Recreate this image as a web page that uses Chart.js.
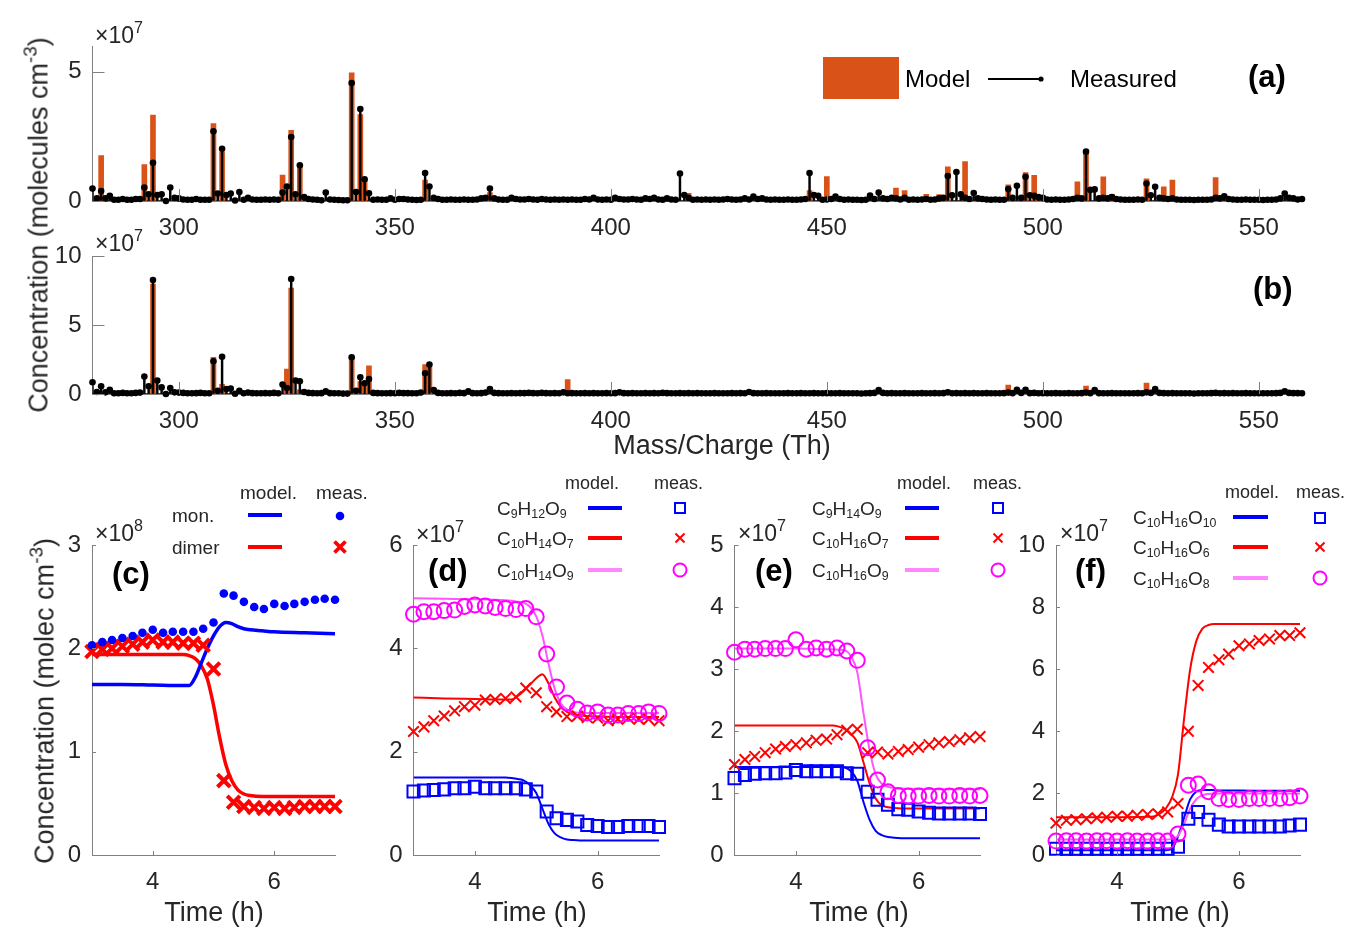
<!DOCTYPE html>
<html><head><meta charset="utf-8">
<script src="https://cdn.jsdelivr.net/npm/chart.js@4.4.1/dist/chart.umd.min.js"></script>
<style>
html,body{margin:0;padding:0;background:#fff;}
#wrap{position:relative;width:1348px;height:927px;overflow:hidden;font-family:'Liberation Sans',Arial,Helvetica,sans-serif;color:#262626;}
canvas{position:absolute;left:0;top:0;}
.t{position:absolute;white-space:nowrap;line-height:1;transform:translate(0,-50%);}
.tc{position:absolute;white-space:nowrap;line-height:1;transform:translate(-50%,-50%);}
.rot{position:absolute;white-space:nowrap;line-height:1;transform:translate(-50%,-50%) rotate(-90deg);}
sub{font-size:65%;vertical-align:-0.28em;line-height:0;}
sup{font-size:70%;vertical-align:0.6em;line-height:0;}
.b{font-weight:bold;color:#000;}
.ln{position:absolute;height:4px;}
svg{position:absolute;overflow:visible;}
</style></head>
<body><div id="wrap">
<canvas id="cA"></canvas><canvas id="cB"></canvas><canvas id="cC"></canvas>
<canvas id="cD"></canvas><canvas id="cE"></canvas><canvas id="cF"></canvas>

<!-- panel a/b texts -->
<div class="t" style="left:95px;top:35px;font-size:23px;">×10<sup>7</sup></div>
<div class="t" style="left:95px;top:243px;font-size:23px;">×10<sup>7</sup></div>
<div style="position:absolute;left:823px;top:57px;width:76px;height:42px;background:#D95319;"></div>
<div class="t" style="left:905px;top:79px;font-size:24px;color:#000;">Model</div>
<div class="ln" style="left:988px;top:78px;width:53px;height:2px;background:#000;"></div>
<svg style="left:0;top:0;" width="1" height="1"><circle cx="1041" cy="79" r="2.6" fill="#000"/></svg>
<div class="t" style="left:1070px;top:79px;font-size:24px;color:#000;">Measured</div>
<div class="t b" style="left:1248px;top:76px;font-size:31px;">(a)</div>
<div class="t b" style="left:1253px;top:288px;font-size:31px;">(b)</div>
<div class="tc" style="left:722px;top:445px;font-size:27px;">Mass/Charge (Th)</div>
<div class="rot" style="left:39px;top:225px;font-size:27px;">Concentration (molecules cm<sup>-3</sup>)</div>

<!-- panel c -->
<div class="t" style="left:240px;top:492px;font-size:19px;">model.</div>
<div class="t" style="left:316px;top:492px;font-size:19px;">meas.</div>
<div class="t" style="left:172px;top:515px;font-size:19px;">mon.</div>
<div class="t" style="left:172px;top:547px;font-size:19px;">dimer</div>
<div class="ln" style="left:248px;top:513px;width:34px;background:#0000ff;"></div>
<div class="ln" style="left:248px;top:545px;width:34px;background:#ff0000;"></div>
<svg style="left:0;top:0;" width="1" height="1">
<circle cx="340" cy="516" r="4.3" fill="#0000ff"/>
<path d="M334.5 541.5 L345.5 552.5 M345.5 541.5 L334.5 552.5" stroke="#ff0000" stroke-width="3.8"/>
</svg>
<div class="t" style="left:95px;top:533px;font-size:23px;">×10<sup>8</sup></div>
<div class="t b" style="left:112px;top:573px;font-size:31px;">(c)</div>
<div class="tc" style="left:214px;top:912px;font-size:27px;">Time (h)</div>
<div class="rot" style="left:45px;top:701px;font-size:27px;">Concentration (molec cm<sup>-3</sup>)</div>

<!-- panel d -->
<div class="t" style="left:565px;top:483px;font-size:18px;">model.</div>
<div class="t" style="left:654px;top:483px;font-size:18px;">meas.</div>
<div class="t" style="left:497px;top:508px;font-size:19px;">C<sub>9</sub>H<sub>12</sub>O<sub>9</sub></div>
<div class="t" style="left:497px;top:538px;font-size:19px;">C<sub>10</sub>H<sub>14</sub>O<sub>7</sub></div>
<div class="t" style="left:497px;top:570px;font-size:19px;">C<sub>10</sub>H<sub>14</sub>O<sub>9</sub></div>
<div class="ln" style="left:588px;top:506px;width:34px;background:#0000ff;"></div>
<div class="ln" style="left:588px;top:536px;width:34px;background:#ff0000;"></div>
<div class="ln" style="left:588px;top:568px;width:34px;background:#ff88ff;"></div>
<svg style="left:0;top:0;" width="1" height="1">
<rect x="675" y="503" width="10" height="10" fill="none" stroke="#0000ff" stroke-width="2"/>
<path d="M675.5 533.5 L684.5 542.5 M684.5 533.5 L675.5 542.5" stroke="#ff0000" stroke-width="2"/>
<circle cx="680" cy="570" r="6.5" fill="none" stroke="#ff00ff" stroke-width="2"/>
</svg>
<div class="t" style="left:416px;top:534px;font-size:23px;">×10<sup>7</sup></div>
<div class="t b" style="left:428px;top:570px;font-size:31px;">(d)</div>
<div class="tc" style="left:537px;top:912px;font-size:27px;">Time (h)</div>

<!-- panel e -->
<div class="t" style="left:897px;top:483px;font-size:18px;">model.</div>
<div class="t" style="left:973px;top:483px;font-size:18px;">meas.</div>
<div class="t" style="left:812px;top:508px;font-size:19px;">C<sub>9</sub>H<sub>14</sub>O<sub>9</sub></div>
<div class="t" style="left:812px;top:538px;font-size:19px;">C<sub>10</sub>H<sub>16</sub>O<sub>7</sub></div>
<div class="t" style="left:812px;top:570px;font-size:19px;">C<sub>10</sub>H<sub>16</sub>O<sub>9</sub></div>
<div class="ln" style="left:905px;top:506px;width:34px;background:#0000ff;"></div>
<div class="ln" style="left:905px;top:536px;width:34px;background:#ff0000;"></div>
<div class="ln" style="left:905px;top:568px;width:34px;background:#ff88ff;"></div>
<svg style="left:0;top:0;" width="1" height="1">
<rect x="993" y="503" width="10" height="10" fill="none" stroke="#0000ff" stroke-width="2"/>
<path d="M993.5 533.5 L1002.5 542.5 M1002.5 533.5 L993.5 542.5" stroke="#ff0000" stroke-width="2"/>
<circle cx="998" cy="570" r="6.5" fill="none" stroke="#ff00ff" stroke-width="2"/>
</svg>
<div class="t" style="left:738px;top:533px;font-size:23px;">×10<sup>7</sup></div>
<div class="t b" style="left:755px;top:570px;font-size:31px;">(e)</div>
<div class="tc" style="left:859px;top:912px;font-size:27px;">Time (h)</div>

<!-- panel f -->
<div class="t" style="left:1225px;top:492px;font-size:18px;">model.</div>
<div class="t" style="left:1296px;top:492px;font-size:18px;">meas.</div>
<div class="t" style="left:1133px;top:517px;font-size:19px;">C<sub>10</sub>H<sub>16</sub>O<sub>10</sub></div>
<div class="t" style="left:1133px;top:547px;font-size:19px;">C<sub>10</sub>H<sub>16</sub>O<sub>6</sub></div>
<div class="t" style="left:1133px;top:578px;font-size:19px;">C<sub>10</sub>H<sub>16</sub>O<sub>8</sub></div>
<div class="ln" style="left:1233px;top:515px;width:35px;background:#0000ff;"></div>
<div class="ln" style="left:1233px;top:545px;width:35px;background:#ff0000;"></div>
<div class="ln" style="left:1233px;top:576px;width:35px;background:#ff88ff;"></div>
<svg style="left:0;top:0;" width="1" height="1">
<rect x="1315" y="513" width="10" height="10" fill="none" stroke="#0000ff" stroke-width="2"/>
<path d="M1315.5 542.5 L1324.5 551.5 M1324.5 542.5 L1315.5 551.5" stroke="#ff0000" stroke-width="2"/>
<circle cx="1320" cy="578" r="6.5" fill="none" stroke="#ff00ff" stroke-width="2"/>
</svg>
<div class="t" style="left:1060px;top:533px;font-size:23px;">×10<sup>7</sup></div>
<div class="t b" style="left:1075px;top:570px;font-size:31px;">(f)</div>
<div class="tc" style="left:1180px;top:912px;font-size:27px;">Time (h)</div>
</div>

<script>
// ---------------- DATA (concentrations in units of the axis exponent) ----------------
const massStart = 280;
const massEnd = 560;
const massTicks = [300, 350, 400, 450, 500, 550];
const yTicksA = [0, 5];
const yTicksB = [0, 5, 10];

// (a) measured, one value per integer mass 280..560 (x1e7)
const measA = [
0.48,0.10,0.39,0.10,0.20,0.05,0.05,0.08,0.05,0.05,
0.08,0.08,0.52,0.26,1.48,0.23,0.26,0.00,0.52,0.12,
0.10,0.06,0.05,0.05,0.08,0.05,0.05,0.05,2.70,0.29,
2.02,0.23,0.29,0.02,0.35,0.05,0.12,0.06,0.05,0.05,
0.06,0.05,0.06,0.05,0.33,0.56,2.48,0.26,1.38,0.15,
0.08,0.06,0.05,0.03,0.33,0.06,0.05,0.04,0.03,0.03,
4.57,0.35,3.56,0.84,0.30,0.05,0.06,0.05,0.05,0.10,
0.05,0.08,0.08,0.06,0.05,0.04,0.05,1.08,0.56,0.12,
0.08,0.05,0.05,0.06,0.05,0.05,0.06,0.05,0.05,0.06,
0.10,0.12,0.48,0.10,0.06,0.05,0.05,0.12,0.08,0.06,
0.06,0.08,0.06,0.05,0.08,0.06,0.05,0.06,0.05,0.06,
0.05,0.06,0.05,0.05,0.08,0.06,0.12,0.06,0.05,0.06,
0.05,0.12,0.08,0.06,0.06,0.08,0.06,0.05,0.10,0.08,
0.12,0.06,0.05,0.10,0.06,0.05,1.06,0.23,0.12,0.05,
0.06,0.05,0.06,0.05,0.06,0.05,0.06,0.08,0.06,0.05,
0.06,0.10,0.06,0.17,0.08,0.10,0.06,0.05,0.06,0.05,
0.05,0.06,0.05,0.05,0.06,0.08,1.08,0.23,0.20,0.05,
0.06,0.08,0.17,0.08,0.05,0.06,0.05,0.05,0.04,0.05,
0.21,0.08,0.33,0.10,0.08,0.12,0.10,0.06,0.12,0.05,
0.06,0.05,0.06,0.08,0.05,0.06,0.10,0.12,0.97,0.22,
1.12,0.26,0.12,0.08,0.31,0.10,0.08,0.06,0.05,0.06,
0.05,0.05,0.46,0.12,0.59,0.12,0.94,0.22,0.20,0.15,
0.12,0.06,0.05,0.06,0.05,0.05,0.06,0.08,0.12,0.10,
1.91,0.43,0.45,0.10,0.12,0.10,0.15,0.08,0.06,0.05,
0.05,0.05,0.06,0.05,0.68,0.22,0.55,0.12,0.10,0.08,
0.10,0.06,0.05,0.05,0.05,0.04,0.05,0.05,0.05,0.06,
0.12,0.10,0.18,0.08,0.06,0.05,0.05,0.06,0.05,0.05,
0.05,0.04,0.05,0.05,0.06,0.10,0.29,0.12,0.10,0.06,
0.08];
// (a) model bars
const modelAMass = [282,292,294,308,310,324,326,328,340,342,343,357,372,418,434,446,450,466,468,473,476,478,482,492,496,498,500,508,510,514,516,524,528,530,540];
const modelAVal  = [1.76,1.41,3.33,3.00,1.90,1.00,2.74,1.40,4.96,3.35,0.80,0.81,0.33,0.30,0.15,0.40,0.95,0.50,0.40,0.26,0.25,1.32,1.53,0.63,1.10,0.99,0.20,0.74,1.95,0.94,0.26,0.86,0.55,0.81,0.91];

// (b) measured, one value per integer mass 280..560 (x1e7)
const measB = [
0.85,0.15,0.56,0.12,0.30,0.05,0.05,0.08,0.05,0.05,
0.08,0.10,1.26,0.56,8.26,0.97,0.48,0.00,0.43,0.12,
0.10,0.08,0.05,0.05,0.06,0.08,0.05,0.05,2.37,0.24,
2.70,0.36,0.40,0.02,0.24,0.05,0.10,0.06,0.05,0.05,
0.06,0.05,0.08,0.05,0.68,0.43,8.33,0.97,0.92,0.15,
0.08,0.06,0.05,0.06,0.19,0.06,0.05,0.05,0.03,0.03,
2.66,0.24,1.21,0.77,1.09,0.08,0.06,0.05,0.05,0.06,
0.05,0.08,0.06,0.06,0.05,0.05,0.10,1.50,2.13,0.29,
0.08,0.05,0.05,0.06,0.05,0.08,0.06,0.19,0.06,0.05,
0.06,0.10,0.36,0.08,0.06,0.05,0.05,0.06,0.05,0.06,
0.06,0.08,0.06,0.05,0.08,0.06,0.05,0.06,0.05,0.12,
0.05,0.06,0.05,0.05,0.06,0.05,0.06,0.05,0.05,0.06,
0.05,0.06,0.12,0.06,0.05,0.06,0.05,0.05,0.06,0.05,
0.06,0.05,0.08,0.06,0.05,0.05,0.06,0.05,0.06,0.05,
0.06,0.05,0.05,0.05,0.06,0.05,0.05,0.05,0.06,0.05,
0.06,0.05,0.15,0.06,0.05,0.05,0.06,0.05,0.05,0.05,
0.05,0.06,0.05,0.05,0.06,0.05,0.05,0.06,0.05,0.05,
0.06,0.05,0.05,0.06,0.05,0.05,0.05,0.05,0.04,0.05,
0.06,0.08,0.28,0.08,0.05,0.06,0.05,0.05,0.06,0.05,
0.05,0.05,0.06,0.05,0.05,0.06,0.05,0.06,0.12,0.05,
0.06,0.05,0.06,0.05,0.06,0.05,0.05,0.06,0.05,0.05,
0.05,0.06,0.10,0.06,0.30,0.08,0.30,0.06,0.08,0.05,
0.06,0.05,0.05,0.06,0.05,0.05,0.06,0.05,0.05,0.06,
0.10,0.06,0.28,0.06,0.05,0.05,0.06,0.05,0.05,0.05,
0.05,0.05,0.06,0.05,0.12,0.08,0.35,0.08,0.06,0.05,
0.06,0.05,0.05,0.05,0.05,0.04,0.05,0.05,0.05,0.06,
0.08,0.05,0.06,0.05,0.06,0.05,0.05,0.06,0.05,0.05,
0.05,0.05,0.05,0.05,0.06,0.08,0.20,0.08,0.06,0.06,
0.05];
// (b) model bars
const modelBMass = [294,308,310,325,326,328,340,342,344,357,358,390,478,492,498,510,524];
const modelBVal  = [7.97,2.66,0.70,1.81,7.68,0.30,2.66,0.90,2.05,2.13,1.95,1.05,0.29,0.65,0.24,0.58,0.80];

// time panels
const timeTicks = [4, 6];
const yTicksC = [0, 1, 2, 3];
const yTicksD = [0, 2, 4, 6];
const yTicksE = [0, 1, 2, 3, 4, 5];
const yTicksF = [0, 2, 4, 6, 8, 10];
const tMeas  = [3.00,3.17,3.33,3.50,3.67,3.83,4.00,4.17,4.33,4.50,4.67,4.83,5.00,5.17,5.33,5.50,5.67,5.83,6.00,6.17,6.33,6.50,6.67,6.83,7.00];
const tModel = [3.0,3.5,4.0,4.5,4.6,4.7,4.8,4.9,5.0,5.1,5.2,5.3,5.4,5.5,5.6,5.8,6.0,6.5,7.0];

// (c) x1e8
const cMonMeas   = [2.03,2.06,2.08,2.10,2.12,2.15,2.18,2.15,2.16,2.16,2.16,2.19,2.25,2.53,2.51,2.45,2.40,2.38,2.43,2.41,2.43,2.45,2.47,2.48,2.47];
const cDimMeas   = [1.97,1.99,2.00,2.02,2.04,2.06,2.08,2.06,2.06,2.05,2.05,2.03,1.80,0.72,0.51,0.47,0.46,0.45,0.46,0.45,0.46,0.47,0.47,0.47,0.47];
const cMonModel  = [1.65,1.65,1.645,1.64,1.64,1.72,1.86,2.00,2.12,2.21,2.25,2.24,2.21,2.19,2.18,2.17,2.16,2.15,2.14];
const cDimModel  = [1.94,1.94,1.94,1.94,1.93,1.90,1.83,1.70,1.45,1.14,0.88,0.72,0.63,0.59,0.575,0.565,0.565,0.565,0.565];

// (d) x1e7
const dBlueMeas  = [1.23,1.25,1.26,1.27,1.29,1.29,1.32,1.29,1.29,1.29,1.29,1.27,1.23,0.84,0.71,0.68,0.65,0.58,0.56,0.54,0.54,0.56,0.56,0.56,0.54];
const dRedMeas   = [2.39,2.48,2.60,2.69,2.79,2.87,2.90,3.00,3.01,3.03,3.06,3.23,3.14,2.87,2.77,2.68,2.69,2.66,2.65,2.60,2.63,2.65,2.63,2.63,2.60];
const dPinkMeas  = [4.66,4.71,4.71,4.73,4.74,4.81,4.84,4.82,4.79,4.77,4.75,4.77,4.61,3.89,3.25,2.94,2.82,2.75,2.77,2.71,2.71,2.74,2.74,2.77,2.74];
const dBlueModel = [1.50,1.50,1.50,1.50,1.49,1.47,1.44,1.35,1.20,0.90,0.60,0.42,0.34,0.30,0.29,0.28,0.28,0.28,0.28];
const dRedModel  = [3.05,3.03,3.02,3.01,3.01,3.08,3.18,3.30,3.42,3.50,3.32,3.05,2.87,2.77,2.73,2.69,2.68,2.67,2.67];
const dPinkModel = [4.97,4.96,4.95,4.93,4.92,4.90,4.88,4.80,4.62,4.25,3.70,3.22,2.93,2.82,2.77,2.75,2.75,2.75,2.75];

// (e) x1e7
const eBlueMeas  = [1.24,1.29,1.31,1.32,1.32,1.33,1.37,1.35,1.35,1.35,1.35,1.32,1.31,1.02,0.89,0.81,0.74,0.73,0.70,0.68,0.67,0.67,0.67,0.67,0.66];
const eRedMeas   = [1.46,1.54,1.59,1.65,1.71,1.75,1.78,1.81,1.85,1.87,1.94,2.01,2.03,1.65,1.66,1.63,1.67,1.70,1.74,1.78,1.81,1.83,1.86,1.89,1.91];
const ePinkMeas  = [3.27,3.32,3.32,3.33,3.33,3.33,3.47,3.32,3.34,3.32,3.34,3.29,3.14,1.73,1.21,1.02,0.96,0.95,0.95,0.96,0.95,0.95,0.96,0.95,0.96];
const eBlueModel = [1.42,1.42,1.42,1.42,1.42,1.42,1.41,1.35,1.20,0.86,0.57,0.39,0.32,0.29,0.28,0.27,0.27,0.27,0.27];
const eRedModel  = [2.09,2.09,2.09,2.09,2.09,2.07,2.03,1.95,1.82,1.50,1.16,0.91,0.80,0.77,0.76,0.75,0.75,0.75,0.75];
const ePinkModel = [3.33,3.33,3.33,3.32,3.32,3.31,3.30,3.20,2.95,2.30,1.70,1.30,1.15,1.10,1.08,1.07,1.07,1.06,1.06];

// (f) x1e7
const fBlueMeas  = [0.20,0.20,0.20,0.20,0.20,0.20,0.20,0.20,0.20,0.20,0.20,0.20,0.27,1.17,1.39,1.14,0.98,0.92,0.92,0.92,0.92,0.92,0.92,0.95,0.98];
const fRedMeas   = [1.03,1.12,1.14,1.17,1.20,1.22,1.25,1.25,1.28,1.31,1.33,1.39,1.66,3.99,5.47,6.05,6.30,6.48,6.75,6.81,6.92,6.97,7.08,7.08,7.17];
const fPinkMeas  = [0.45,0.46,0.46,0.45,0.46,0.46,0.45,0.46,0.45,0.45,0.46,0.45,0.68,2.25,2.29,2.04,1.82,1.79,1.79,1.82,1.82,1.82,1.82,1.85,1.90];
const fBlueModel = [0.15,0.15,0.15,0.15,0.15,0.15,0.15,0.20,0.60,1.20,1.80,2.05,2.10,2.10,2.09,2.08,2.08,2.07,2.07];
const fRedModel  = [1.22,1.22,1.22,1.23,1.24,1.33,1.50,1.85,2.60,4.40,6.00,6.90,7.30,7.42,7.45,7.45,7.45,7.45,7.45];
const fPinkModel = [0.50,0.50,0.50,0.50,0.50,0.50,0.50,0.52,0.62,1.00,1.50,1.80,1.93,1.97,1.98,1.98,1.98,1.98,1.98];

// ---------------- STYLE / LAYOUT ----------------
const W = 1348, H = 927, YW = 60, XH = 50;
const AXIS = '#808080', TXT = '#262626';
const FONT = "'Liberation Sans', Arial, Helvetica, sans-serif";
const ORANGE = '#D95319', BLUE = '#0000ff', RED = '#ff0000', MAG = '#ff00ff', PINKLINE = '#ff55ff';

const inTicks = {
  id: 'inTicks',
  afterDraw(chart, args, opts) {
    const {ctx, chartArea: a, scales: {x, y}} = chart;
    const L = opts.len || 4;
    ctx.save();
    ctx.strokeStyle = AXIS; ctx.lineWidth = 1;
    ctx.beginPath();
    x.ticks.forEach(t => { const p = Math.round(x.getPixelForValue(t.value)) + 0.5; ctx.moveTo(p, a.bottom); ctx.lineTo(p, a.bottom - L); });
    y.ticks.forEach(t => { const p = Math.round(y.getPixelForValue(t.value)) + 0.5; ctx.moveTo(a.left, p); ctx.lineTo(a.left + L, p); });
    ctx.stroke();
    ctx.restore();
  }
};

function axisCfg(min, max, ticks, isX) {
  return {
    type: 'linear', min, max, offset: false,
    grid: {display: true, drawOnChartArea: false, drawTicks: false, offset: false},
    border: {display: true, color: AXIS, width: 1},
    ticks: {color: TXT, font: {family: FONT, size: 24}, padding: isX ? 13 : 11,
            autoSkip: false, maxRotation: 0, minRotation: 0, callback: v => String(v)},
    afterBuildTicks: s => { s.ticks = ticks.map(v => ({value: v})); },
    afterFit: s => { if (isX) s.height = XH; else s.width = YW; }
  };
}

function build(id, type, area, xs, ys, datasets, tickLen) {
  const cv = document.getElementById(id);
  cv.width = W; cv.height = H;
  return new Chart(cv, {
    type,
    data: {datasets},
    options: {
      responsive: false, animation: false, events: [],
      layout: {padding: {left: area.l - YW, right: W - area.r, top: area.t, bottom: H - area.b - XH}},
      plugins: {legend: {display: false}, tooltip: {enabled: false}, inTicks: {len: tickLen}},
      scales: {x: axisCfg(xs.min, xs.max, xs.ticks, true), y: axisCfg(ys.min, ys.max, ys.ticks, false)}
    },
    plugins: [inTicks]
  });
}

function spectrum(meas, modelMass, modelVal) {
  const pts = meas.map((v, i) => ({x: massStart + i, y: v}));
  return [
    {type: 'line', data: pts, showLine: false, pointRadius: 3.3, pointBackgroundColor: '#000', pointBorderWidth: 0, order: 1, clip: false},
    {type: 'bar', data: pts, backgroundColor: '#000', barThickness: 1.8, grouped: false, order: 2},
    {type: 'bar', data: modelMass.map((m, i) => ({x: m, y: modelVal[i]})), backgroundColor: ORANGE, barThickness: 5, grouped: false, order: 3},
    {type: 'line', data: [{x: massStart, y: 0}, {x: massEnd, y: 0}], borderColor: '#000', borderWidth: 1.5, pointRadius: 0, order: 4}
  ];
}

build('cA', 'bar', {l: 92.5, r: 1302, t: 46, b: 201}, {min: massStart, max: massEnd, ticks: massTicks}, {min: 0, max: 6, ticks: yTicksA},
      spectrum(measA, modelAMass, modelAVal), 12);
build('cB', 'bar', {l: 92.5, r: 1302, t: 256, b: 394}, {min: massStart, max: massEnd, ticks: massTicks}, {min: 0, max: 10, ticks: yTicksB},
      spectrum(measB, modelBMass, modelBVal), 12);

function modelLine(vals, color, w, ord) {
  return {type: 'line', data: tModel.map((t, i) => ({x: t, y: vals[i]})), borderColor: color, borderWidth: w,
          pointRadius: 0, cubicInterpolationMode: 'monotone', fill: false, order: ord};
}
function measPts(vals, style, color, r, bw, filled, ord) {
  return {type: 'line', data: tMeas.map((t, i) => ({x: t, y: vals[i]})), showLine: false, pointStyle: style,
          pointRadius: r, pointBorderWidth: bw, pointBorderColor: color,
          pointBackgroundColor: filled ? color : 'rgba(0,0,0,0)', clip: false, order: ord};
}
const tx = {min: 3, max: 7, ticks: timeTicks};

build('cC', 'line', {l: 92, r: 335, t: 545, b: 855}, tx, {min: 0, max: 3, ticks: yTicksC}, [
  measPts(cMonMeas, 'circle', BLUE, 4.3, 0, true, 1),
  measPts(cDimMeas, 'crossRot', RED, 9, 4, false, 2),
  modelLine(cMonModel, BLUE, 3.5, 3),
  modelLine(cDimModel, RED, 3.5, 4)
], 4);

function triple(bm, rm, pm, bl, rl, pl) {
  return [
    measPts(pm, 'circle', MAG, 7.5, 2, false, 1),
    measPts(rm, 'crossRot', RED, 7.5, 2, false, 2),
    measPts(bm, 'rect', BLUE, 8.5, 2, false, 3),
    modelLine(pl, PINKLINE, 2, 4),
    modelLine(rl, RED, 2, 5),
    modelLine(bl, BLUE, 2, 6)
  ];
}
build('cD', 'line', {l: 413.5, r: 659, t: 545, b: 855}, tx, {min: 0, max: 6, ticks: yTicksD},
      triple(dBlueMeas, dRedMeas, dPinkMeas, dBlueModel, dRedModel, dPinkModel), 4);
build('cE', 'line', {l: 734.5, r: 980, t: 545, b: 855}, tx, {min: 0, max: 5, ticks: yTicksE},
      triple(eBlueMeas, eRedMeas, ePinkMeas, eBlueModel, eRedModel, ePinkModel), 4);
build('cF', 'line', {l: 1056, r: 1300, t: 545, b: 855}, tx, {min: 0, max: 10, ticks: yTicksF},
      triple(fBlueMeas, fRedMeas, fPinkMeas, fBlueModel, fRedModel, fPinkModel), 4);
</script>
</body></html>
